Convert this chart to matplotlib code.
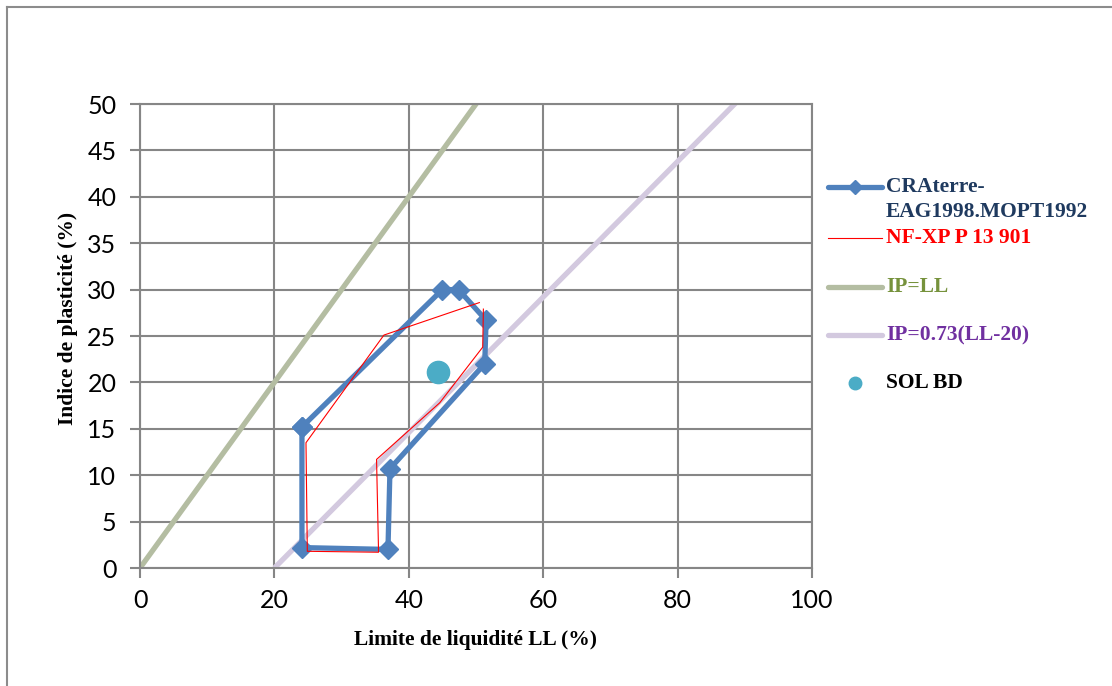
import matplotlib
matplotlib.use("Agg")
import matplotlib.pyplot as plt
from matplotlib.lines import Line2D

# CRAterre / EAG 1998 / MOPT 1992 zone (closed polygon)
cra_ll = [24.1, 45.0, 47.4, 51.5, 51.3, 37.2, 36.9, 24.1, 24.1]
cra_ip = [15.2, 30.0, 30.0, 26.7, 22.0, 10.7, 2.0, 2.2, 15.2]

# NF-XP P 13 901 zone
nf_ll = [50.5, 36.3, 24.7, 24.9, 35.5, 35.2, 44.6, 51.0, 51.1]
nf_ip = [28.6, 25.1, 13.5, 1.8, 1.7, 11.7, 17.8, 23.8, 27.9]

# reference lines
ipll_ll = [0, 100]
ipll_ip = [0, 100]
aline_ll = [20, 100]
aline_ip = [0, 58.4]

# sample
sol_ll = [44.4]
sol_ip = [21.1]

W, H = 1112, 686
fig = plt.figure(figsize=(W / 100, H / 100), dpi=100)
ax = fig.add_axes([140 / W, 1 - 568 / H, 672 / W, 464 / H])

blue = "#4F81BD"
green = "#B4BDA2"
lilac = "#D3C9DF"
ax.plot(ipll_ll, ipll_ip, color=green, lw=3.8, solid_capstyle="butt", zorder=2)
ax.plot(aline_ll, aline_ip, color=lilac, lw=3.8, solid_capstyle="butt", zorder=2)
ax.plot(cra_ll, cra_ip, color=blue, lw=3.8, marker="D", markersize=10,
        solid_joinstyle="round", zorder=3)
ax.plot(nf_ll, nf_ip, color="red", lw=0.8, zorder=4)
ax.plot(sol_ll, sol_ip, "o", color="#4BACC6", markersize=16, zorder=5)

ax.set_xlim(0, 100)
ax.set_ylim(0, 50)
ax.set_xticks(range(0, 101, 20))
ax.set_yticks(range(0, 51, 5))
ax.grid(True, color="#868686", lw=1.5)
ax.set_axisbelow(True)
for s in ax.spines.values():
    s.set_color("#868686")
    s.set_linewidth(1.5)
ax.tick_params(color="#868686", width=1.5, length=7, labelsize=18)
ax.tick_params(axis="y", pad=10)
ax.tick_params(axis="x", pad=8)
for lab in ax.get_xticklabels() + ax.get_yticklabels():
    lab.set_fontfamily("Lato")

serif = dict(family="Liberation Serif", weight="bold", fontsize=15.5)
fig.text(476 / W, 1 - 640 / H, "Limite de liquidité LL (%)", ha="center", va="center", **serif)
fig.text(68 / W, 1 - 318 / H, "Indice de plasticité (%)", ha="center", va="center",
         rotation=90, **serif)


# legend drawn by hand to match the layout
def fx(px):
    return px / W


def fy(py):
    return 1 - py / H


leg_labels = [["CRAterre-", "EAG1998.MOPT1992"], ["NF-XP P 13 901"], ["IP=LL"],
              ["IP=0.73(LL-20)"], ["SOL BD"]]
leg_colors = ["#1F3A5F", "#FF0000", "#76923C", "#7030A0", "black"]
leg_y = [187, 238, 287, 335, 383]

fig.add_artist(Line2D([fx(828), fx(882)], [fy(187)] * 2, color=blue, lw=3.8,
                      solid_capstyle="round"))
fig.add_artist(Line2D([fx(855)], [fy(187)], marker="D", markersize=7, color=blue, lw=0))
fig.add_artist(Line2D([fx(828), fx(882)], [fy(238)] * 2, color="red", lw=0.8))
fig.add_artist(Line2D([fx(828), fx(882)], [fy(287)] * 2, color=green, lw=3.8,
                      solid_capstyle="round"))
fig.add_artist(Line2D([fx(828), fx(882)], [fy(335)] * 2, color=lilac, lw=3.8,
                      solid_capstyle="round"))
fig.add_artist(Line2D([fx(855)], [fy(383)], marker="o", markersize=9, color="#4BACC6", lw=0))

for lines, col, py in zip(leg_labels, leg_colors, leg_y):
    for i, t in enumerate(lines):
        fig.text(fx(886), fy(py + 25 * i), t, color=col, va="center", **serif)

# outer frame (top and left edges visible)
fig.add_artist(Line2D([fx(7), 1], [fy(7), fy(7)], color="#8C8C8C", lw=1.5))
fig.add_artist(Line2D([fx(7), fx(7)], [fy(7), 0], color="#8C8C8C", lw=1.5))

fig.savefig("out.png", dpi=100)
